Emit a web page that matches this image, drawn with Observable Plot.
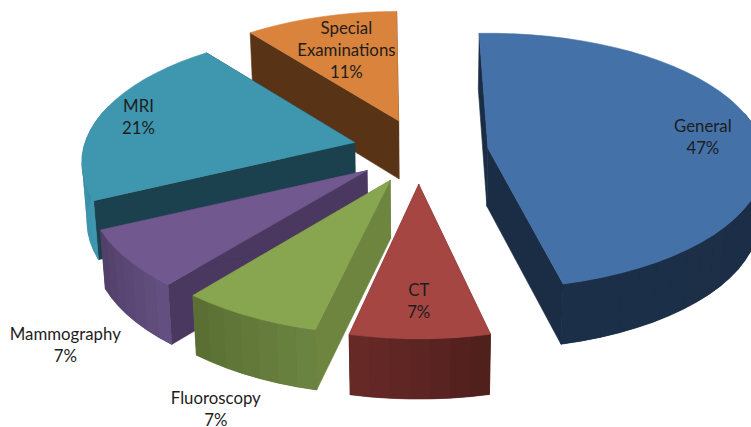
<!DOCTYPE html>
<html>
<head>
<meta charset="utf-8">
<style>html,body{margin:0;padding:0;background:#fff;overflow:hidden}svg{display:block}</style>
<script src="https://cdn.jsdelivr.net/npm/d3@7"></script>
<script src="https://cdn.jsdelivr.net/npm/@observablehq/plot@0.6"></script>
</head>
<body>
<div id="chart"></div>
<script>
const categories = ["General","CT","Fluoroscopy","Mammography","MRI","Special\nExaminations"];
const shares = [47,7,7,7,21,11];
const topColors = ["#4471A7","#A54643","#88A54F","#71588F","#3F96AF","#D9833C"];
const wallColors = ["#1B2D45","#6B2A28","#6E853F","#4A3860","#1C414E","#583316"];
const rimFrom = ["#1B2D45","#50201D","#6B8340","#645080","#3F96AF","#D9833C"];
const rimTo = ["#1C2F48","#6B2A28","#586C32","#4F3C66","#2F7F96","#D9833C"];
const labelAngle = [83,180,200,219.5,284.3,341];
const labelRadius = [0.795,0.78,1.46,1.43,0.855,0.66];
const drawOrder = [5,4,3,2,0,1];
// Per-slice fit of the perspective of the original 3-D rendering.
const fit = [
  {dx: 3, dy: 1, da0: 0, da1: -1.5, rs: 1, k: 0.10, tilt: 0.46},
  {dx: 0, dy: 0, da0: 0, da1: 0, rs: 1},
  {dx: 0, dy: -1, da0: 1, da1: 1.5, rs: 1},
  {dx: 0, dy: -2, da0: 2, da1: 2, rs: 1},
  {dx: 2, dy: -3, da0: 2, da1: 3.5, rs: 0.98},
  {dx: 5, dy: 0, da0: 3, da1: 1.5, rs: 0.97}
];

const W = 751, H = 427, cx = 418, cy = 151, ex = 67, ey = 33, R = 275, tilt = 0.474, k = 0.155, depth = 58, startAngle = 358;
const rad = d => d * Math.PI / 180;

let a = startAngle;
const slices = shares.map((v, i) => {
  const a0 = a, a1 = a + v * 3.6; a = a1;
  const mid = rad((a0 + a1) / 2), f = fit[i];
  return {i, a0: a0 + f.da0, a1: a1 + f.da1, rs: f.rs, k: f.k ?? k, tilt: f.tilt ?? tilt,
    ox: cx + ex * Math.sin(mid) + f.dx, oy: cy - ey * Math.cos(mid) + f.dy};
});
function upper(s, deg, r) {
  const x = r * Math.sin(rad(deg)), y = -r * Math.cos(rad(deg));
  const p = 1 / (1 - s.k * y);
  return [s.ox + R * s.rs * x * p, s.oy + R * s.rs * s.tilt * y * p, y];
}
function lower(s, deg, r) {
  const [x, y, v] = upper(s, deg, r);
  return [cx + (x - cx) * 0.985, y + depth * (1 + 0.04 * v)];
}
const polys = [];
let id = 0;
function add(points, color, edge) {
  const z = id++;
  [...points, points[0]].forEach(p => polys.push({x: p[0], y: p[1], z, color, edge}));
}
for (const n of drawOrder) {
  const s = slices[n];
  const t0 = upper(s, s.a0, 0), b0 = lower(s, s.a0, 0);
  for (const e of [s.a0, s.a1]) {
    add([t0, upper(s, e, 1), lower(s, e, 1), b0], wallColors[n], wallColors[n]);
  }
  const mix = d3.interpolateRgb(rimFrom[n], rimTo[n]);
  const steps = Math.ceil((s.a1 - s.a0) / 4);
  const angle = j => s.a0 + (s.a1 - s.a0) * j / steps;
  const visible = d3.range(steps + 1).filter(j => Math.cos(rad(angle(j))) <= 0.3);
  if (visible.length > 1) {
    const base = mix(0.5);
    add([...visible.map(j => upper(s, angle(j), 1)), ...visible.slice().reverse().map(j => lower(s, angle(j), 1))], base, base);
    for (const j of visible.slice(0, -1)) {
      add([upper(s, angle(j), 1), upper(s, angle(j + 1), 1), lower(s, angle(j + 1), 1), lower(s, angle(j), 1)], mix(j / steps), "none");
    }
  }
  add([t0, ...d3.range(steps + 1).map(j => upper(s, angle(j), 1))], topColors[n], topColors[n]);
}
const labels = slices.map(s => {
  const [x, y] = upper(s, labelAngle[s.i], labelRadius[s.i]);
  return {x, y, text: `${categories[s.i]}\n${shares[s.i]}%`};
});

const chart = Plot.plot({
  width: W, height: H,
  margin: 0,
  x: {domain: [0, W], range: [0, W], axis: null},
  y: {domain: [0, H], range: [0, H], axis: null},
  marks: [
    Plot.line(polys, {x: "x", y: "y", z: "z", fill: "color", stroke: "edge", strokeWidth: 0.6, curve: "linear"}),
    Plot.text(labels, {x: "x", y: "y", text: "text", fontSize: 16.8, lineHeight: 1.31, fontFamily: "Lato", fill: "#1d1d1d"})
  ],
  style: {background: "#fff"}
});
document.getElementById("chart").append(chart);
</script>
</body>
</html>
